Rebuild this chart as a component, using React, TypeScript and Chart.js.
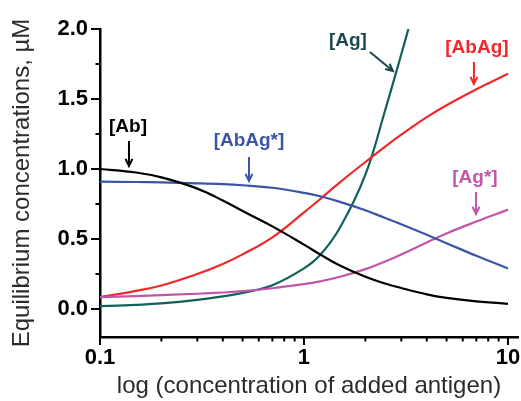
import React, { useEffect, useRef } from "react";
import { Chart, registerables } from "chart.js";

Chart.register(...registerables);

// ---- data ----
const xs = [0.1, 0.15, 0.2, 0.3, 0.4, 0.5, 0.7, 1, 1.2, 1.5, 2, 2.5, 3, 4, 5, 7, 10];
const abValues = [1.0, 0.975, 0.94, 0.86, 0.775, 0.7, 0.59, 0.46, 0.39, 0.31, 0.23, 0.182, 0.15, 0.105, 0.08, 0.055, 0.037];
const abAgStarValues = [0.91, 0.907, 0.904, 0.898, 0.892, 0.884, 0.866, 0.83, 0.805, 0.765, 0.705, 0.65, 0.605, 0.53, 0.47, 0.38, 0.29];
const abAgValues = [0.085, 0.13, 0.168, 0.25, 0.322, 0.39, 0.512, 0.69, 0.785, 0.905, 1.05, 1.16, 1.245, 1.37, 1.455, 1.57, 1.68];
const agStarValues = [0.085, 0.092, 0.099, 0.109, 0.118, 0.127, 0.148, 0.178, 0.197, 0.23, 0.285, 0.34, 0.39, 0.475, 0.54, 0.625, 0.71];
const agXs = [0.1, 0.15, 0.2, 0.3, 0.4, 0.5, 0.7, 1, 1.2, 1.5, 2, 2.5, 3, 3.25];
const agValues = [0.02, 0.03, 0.04, 0.065, 0.09, 0.115, 0.17, 0.29, 0.385, 0.58, 0.96, 1.42, 1.82, 2.0];

const xMajorTicks = [0.1, 1, 10];
const xMinorTicks = [0.2, 0.3, 0.4, 0.5, 0.6, 0.7, 0.8, 0.9, 2, 3, 4, 5, 6, 7, 8, 9];
const yMajorTicks = [0, 0.5, 1, 1.5, 2];
const yMinorTicks = [0.25, 0.75, 1.25, 1.75];

const COLORS = {
  ab: "#000000",
  abAgStar: "#3b55a5",
  abAg: "#f0282a",
  ag: "#10615a",
  agLabel: "#1d4650",
  agStar: "#c056a9",
};

// annotations: arrow tip in data coords, arrow start and label centre as pixel offsets
const annotations = [
  { text: "[Ab]", color: COLORS.ab, x: 0.1387, y: 1.021, dx: 0, dy: -25, lx: -1, ly: -39 },
  { text: "[AbAg*]", color: COLORS.abAgStar, x: 0.5375, y: 0.914, dx: 0, dy: -24, lx: 0, ly: -40 },
  { text: "[Ag]", color: COLORS.agLabel, x: 2.73, y: 1.7, dx: -23, dy: -19, lx: -45, ly: -30 },
  { text: "[AbAg]", color: COLORS.abAg, x: 6.81, y: 1.607, dx: 0, dy: -22, lx: 3, ly: -36 },
  { text: "[Ag*]", color: COLORS.agStar, x: 6.97, y: 0.679, dx: 0, dy: -22, lx: -1, ly: -36 },
];

const pts = (xv: number[], yv: number[]) => xv.map((x, i) => ({ x, y: yv[i] }));

const tickPlugin = {
  id: "customTicks",
  afterDraw(chart: any) {
    const { ctx, chartArea } = chart;
    const xS = chart.scales.x;
    const yS = chart.scales.y;
    ctx.save();
    ctx.strokeStyle = "#000";
    ctx.lineWidth = 2;
    ctx.beginPath();
    xMajorTicks.forEach((v) => {
      const p = xS.getPixelForValue(v);
      ctx.moveTo(p, chartArea.bottom);
      ctx.lineTo(p, chartArea.bottom + 8);
    });
    xMinorTicks.forEach((v) => {
      const p = xS.getPixelForValue(v);
      ctx.moveTo(p, chartArea.bottom);
      ctx.lineTo(p, chartArea.bottom + 4.5);
    });
    yMajorTicks.forEach((v) => {
      const p = yS.getPixelForValue(v);
      ctx.moveTo(chartArea.left, p);
      ctx.lineTo(chartArea.left - 9, p);
    });
    yMinorTicks.forEach((v) => {
      const p = yS.getPixelForValue(v);
      ctx.moveTo(chartArea.left, p);
      ctx.lineTo(chartArea.left - 4.5, p);
    });
    ctx.stroke();

    // annotations
    annotations.forEach((a) => {
      const tx = xS.getPixelForValue(a.x);
      const ty = yS.getPixelForValue(a.y);
      const sx = tx + a.dx;
      const sy = ty + a.dy;
      ctx.strokeStyle = a.color;
      ctx.lineWidth = 2;
      ctx.beginPath();
      ctx.moveTo(sx, sy);
      ctx.lineTo(tx, ty);
      const ang = Math.atan2(ty - sy, tx - sx);
      const len = 8;
      const spread = 0.45;
      ctx.moveTo(tx - len * Math.cos(ang - spread), ty - len * Math.sin(ang - spread));
      ctx.lineTo(tx, ty);
      ctx.lineTo(tx - len * Math.cos(ang + spread), ty - len * Math.sin(ang + spread));
      ctx.stroke();
      ctx.fillStyle = a.color;
      ctx.font = "bold 19px 'Liberation Sans', Arial, sans-serif";
      ctx.textAlign = "center";
      ctx.textBaseline = "middle";
      ctx.fillText(a.text, tx + a.lx, ty + a.ly);
    });
    ctx.restore();
  },
};

export default function App() {
  const ref = useRef<HTMLCanvasElement | null>(null);
  useEffect(() => {
    document.body.style.margin = "0";
    if (!ref.current) return;
    const line = (label: string, data: any[], color: string) => ({
      label,
      data,
      borderColor: color,
      backgroundColor: color,
      borderWidth: 2.2,
      pointRadius: 0,
      fill: false,
      tension: 0.4,
    });
    const chart = new Chart(ref.current, {
      type: "line",
      data: {
        datasets: [
          line("[Ab]", pts(xs, abValues), COLORS.ab),
          line("[AbAg*]", pts(xs, abAgStarValues), COLORS.abAgStar),
          line("[Ag*]", pts(xs, agStarValues), COLORS.agStar),
          line("[AbAg]", pts(xs, abAgValues), COLORS.abAg),
          line("[Ag]", pts(agXs, agValues), COLORS.ag),
        ],
      },
      options: {
        animation: false,
        responsive: false,
        events: [],
        layout: { padding: { top: 29, right: 3, left: 0, bottom: 0 } },
        plugins: { legend: { display: false }, tooltip: { enabled: false } },
        scales: {
          x: {
            type: "logarithmic",
            min: 0.1,
            max: 11.2,
            afterBuildTicks: (s: any) => {
              s.ticks = xMajorTicks.map((v) => ({ value: v }));
            },
            afterFit: (s: any) => {
              s.height = 64;
              s.paddingLeft = 0;
              s.paddingRight = 0;
            },
            grid: { display: false, drawTicks: false },
            border: { display: true, color: "#000", width: 2.5 },
            ticks: {
              padding: 8,
              color: "#000",
              maxRotation: 0,
              autoSkip: false,
              font: { family: "'Liberation Sans', Arial, sans-serif", size: 22, weight: "bold" },
              callback: (v: any) => String(v),
            },
            title: {
              display: true,
              text: "log (concentration of added antigen)",
              color: "#2b2b2b",
              padding: { top: 0, bottom: 0 },
              font: { family: "'Liberation Sans', Arial, sans-serif", size: 24 },
            },
          },
          y: {
            type: "linear",
            min: -0.2,
            max: 2.0,
            afterBuildTicks: (s: any) => {
              s.ticks = yMajorTicks.map((v) => ({ value: v }));
            },
            afterFit: (s: any) => {
              s.width = 100;
              s.paddingTop = 0;
              s.paddingBottom = 0;
            },
            grid: { display: false, drawTicks: false },
            border: { display: true, color: "#000", width: 2.5 },
            ticks: {
              padding: 12,
              color: "#000",
              font: { family: "'Liberation Sans', Arial, sans-serif", size: 22, weight: "bold" },
              callback: (v: any) => Number(v).toFixed(1),
            },
            title: {
              display: true,
              text: "Equilibrium concentrations, µM",
              color: "#2b2b2b",
              padding: { top: 8, bottom: 0 },
              font: { family: "'Liberation Sans', Arial, sans-serif", size: 24 },
            },
          },
        },
      },
      plugins: [tickPlugin],
    });
    return () => chart.destroy();
  }, []);
  return (
    <div style={{ width: 521, height: 401 }}>
      <canvas ref={ref} width={521} height={401} style={{ display: "block" }} />
    </div>
  );
}
